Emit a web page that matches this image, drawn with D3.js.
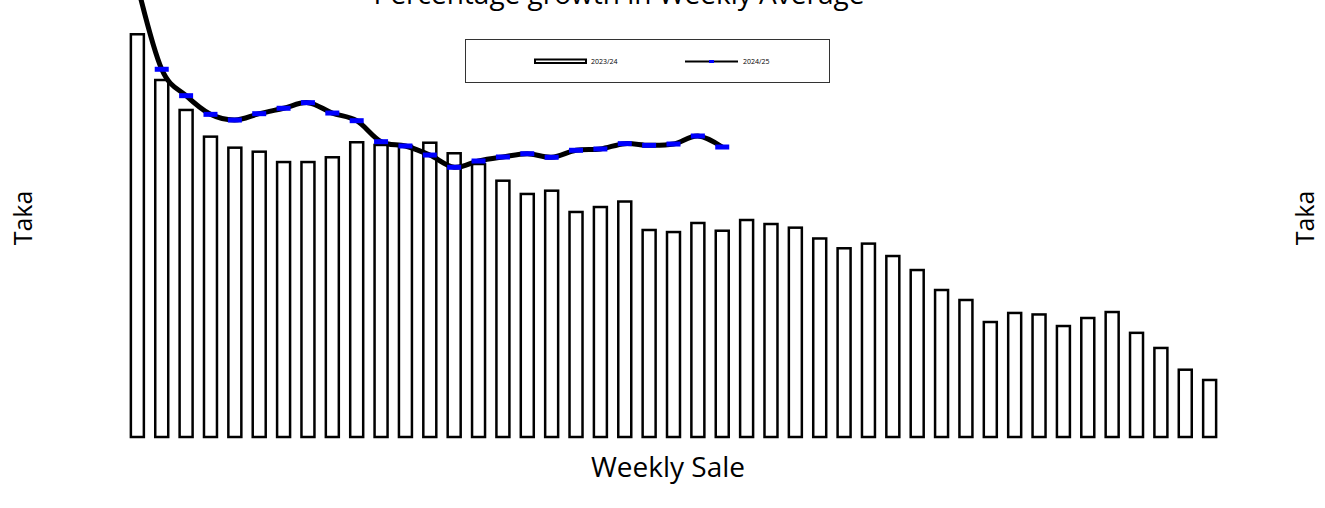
<!DOCTYPE html>
<html>
<head>
<meta charset="utf-8">
<script src="https://cdn.jsdelivr.net/npm/d3@7"></script>
<style>
  body { margin: 0; background: #fff; }
  text { font-family: "Open Sans", "Noto Sans", sans-serif; fill: #000; }
</style>
</head>
<body>
<svg id="chart" width="1325" height="508"></svg>
<script>
// weekly sale, 45 weeks
const weeks = d3.range(1, 46);
const sales2324 = [4315, 3825, 3504, 3218, 3100, 3057, 2946, 2946, 2997, 3158,
  3129, 3118, 3153, 3040, 2925, 2746, 2604, 2639, 2411, 2464,
  2523, 2218, 2196, 2293, 2210, 2325, 2282, 2243, 2127, 2022,
  2072, 1939, 1789, 1575, 1468, 1232, 1329, 1313, 1189, 1275,
  1339, 1116, 954, 721, 611];
const sales2425 = [4843, 3940, 3657, 3457, 3396, 3464, 3522, 3582, 3471, 3389,
  3164, 3118, 3021, 2890, 2957, 3000, 3035, 2997, 3072, 3086,
  3143, 3125, 3139, 3225, 3107];
const seriesNames = ['2023/24', '2024/25'];

const svg = d3.select('#chart');

const x = d3.scaleBand().domain(weeks).range([126, 1221]).paddingInner(0.467).paddingOuter(0.2);
const y = d3.scaleLinear().domain([0, 4500]).range([437, 17]);

// bars
svg.append('g').selectAll('rect')
  .data(weeks)
  .enter()
  .append('rect')
  .attr('x', d => x(d))
  .attr('width', x.bandwidth())
  .attr('y', (d, i) => y(sales2324[i]))
  .attr('height', (d, i) => y(0) - y(sales2324[i]))
  .attr('fill', '#fff')
  .attr('stroke', '#000')
  .attr('stroke-width', 2.5);

// line for 2024/25
const pts = sales2425.map((v, i) => [x(weeks[i]) + x.bandwidth() / 2, y(v)]);
const line = d3.line().curve(d3.curveCardinal.tension(0));
svg.append('path')
  .attr('d', line(pts))
  .attr('fill', 'none')
  .attr('stroke', '#000')
  .attr('stroke-width', 5);

svg.append('g').selectAll('rect')
  .data(pts)
  .enter()
  .append('rect')
  .attr('x', d => d[0] - 7)
  .attr('y', d => d[1] - 2.5)
  .attr('width', 14)
  .attr('height', 5)
  .attr('fill', '#0000ff');

// titles (chart title sits partly above the page, as in the original)
svg.append('text')
  .attr('x', 619).attr('y', 4)
  .attr('text-anchor', 'middle')
  .style('font-size', '28px')
  .text('Percentage growth in Weekly Average');

svg.append('text')
  .attr('x', 668).attr('y', 477)
  .attr('text-anchor', 'middle')
  .style('font-size', '28px')
  .text('Weekly Sale');

svg.append('text')
  .attr('transform', 'translate(32,218) rotate(-90)')
  .attr('text-anchor', 'middle')
  .style('font-size', '25px')
  .text('Taka');

svg.append('text')
  .attr('transform', 'translate(1314,218) rotate(-90)')
  .attr('text-anchor', 'middle')
  .style('font-size', '25px')
  .text('Taka');

// legend
const legend = svg.append('g');
legend.append('rect')
  .attr('x', 465.5).attr('y', 39.5)
  .attr('width', 364).attr('height', 43)
  .attr('fill', '#fff')
  .attr('stroke', '#333')
  .attr('stroke-width', 1);

legend.append('rect')
  .attr('x', 535).attr('y', 59.5)
  .attr('width', 51).attr('height', 3.5)
  .attr('fill', '#fff')
  .attr('stroke', '#000')
  .attr('stroke-width', 2);
legend.append('text')
  .attr('x', 591).attr('y', 64)
  .style('font-size', '7px')
  .text(seriesNames[0]);

legend.append('line')
  .attr('x1', 685).attr('x2', 738)
  .attr('y1', 61.5).attr('y2', 61.5)
  .attr('stroke', '#000')
  .attr('stroke-width', 2);
legend.append('rect')
  .attr('x', 709).attr('y', 60)
  .attr('width', 5).attr('height', 3)
  .attr('fill', '#0000ff');
legend.append('text')
  .attr('x', 743).attr('y', 64)
  .style('font-size', '7px')
  .text(seriesNames[1]);
</script>
</body>
</html>
